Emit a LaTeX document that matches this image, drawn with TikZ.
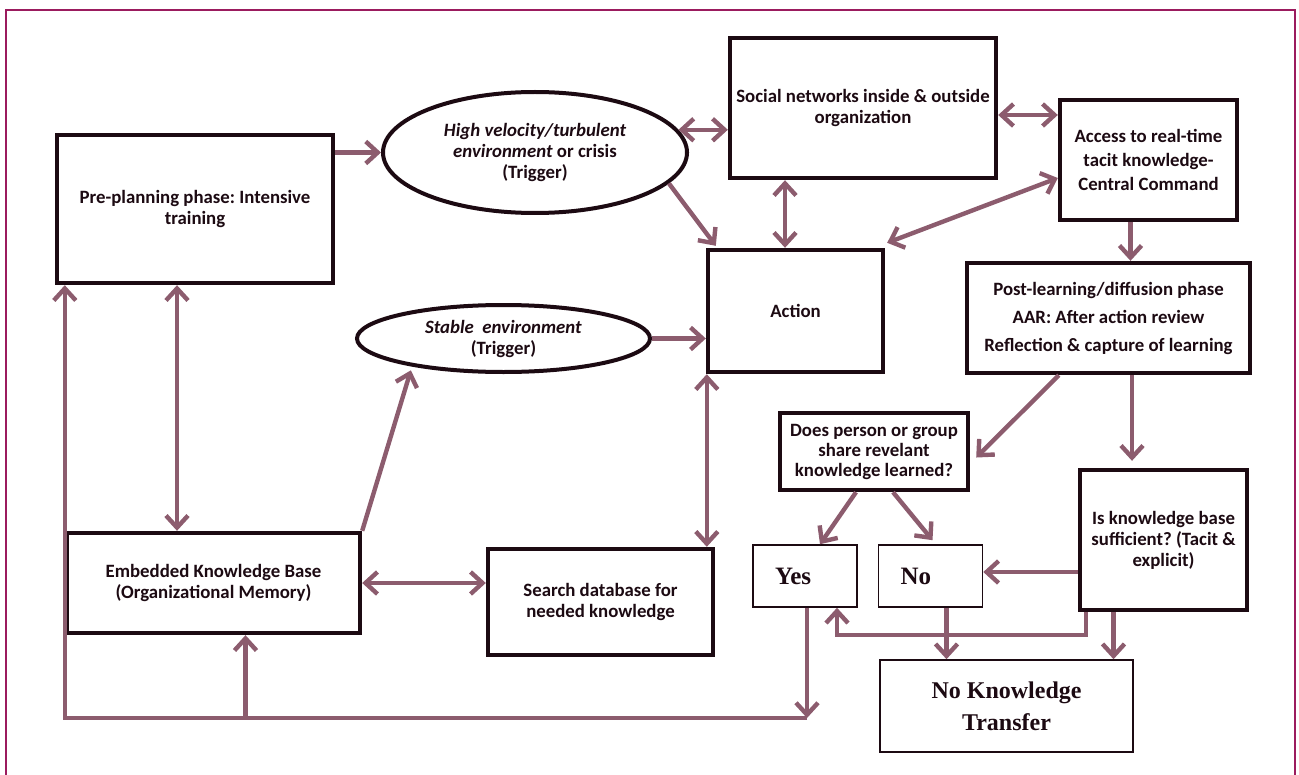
\documentclass[tikz,border=0pt]{standalone}
\usepackage{fontspec}
\setmainfont{Carlito}
\newfontfamily\serifbold{Liberation Serif}
\usepackage{tikz}
\usetikzlibrary{arrows.meta,calc,shapes.geometric}
\definecolor{mauve}{HTML}{8C5C6E}
\definecolor{plum}{HTML}{9B1B5E}
\definecolor{ink}{HTML}{1C0A12}
\frenchspacing
\newcommand\boxfont[1][10.5]{\bfseries\fontsize{9.4}{#1}\selectfont}
\tikzset{
    every picture/.style={line join=miter},
    phasebox/.style={draw=ink,fill=white,line width=2.2pt,inner sep=2pt,
      text=ink,font=\boxfont,align=center},
    trigger/.style={ellipse,draw=ink,fill=white,line width=2pt,inner sep=0pt,
      text=ink,font=\boxfont,align=center},
    answerbox/.style={draw=ink,fill=white,line width=0.8pt,text=ink,
      font={\serifbold\bfseries\fontsize{12.5}{16}\selectfont}},
    flowarrow/.style={draw=mauve,line width=2.2pt,
      -{Straight Barb[length=6pt,width=11pt]}},
    twoway/.style={flowarrow,
      {Straight Barb[length=6pt,width=11pt]}-{Straight Barb[length=6pt,width=11pt]}}
}

\begin{document}
\begin{tikzpicture}[x=0.5pt,y=-0.5pt]
  \useasboundingbox (0,0) rectangle (1299,775);
  \draw[plum,line width=1.2pt] (6,780) -- (6,10) -- (1295,10) -- (1295,780);

  \node[phasebox,minimum width=138pt,minimum height=74pt] (pre) at (195,209)
    {Pre-planning phase: Intensive\\training};
  \node[trigger,minimum width=152pt,minimum height=60.5pt] (hv) at (535,152.5)
    {\itshape High velocity/turbulent\\\textit{environment} or crisis\\(Trigger)};
  \node[phasebox,minimum width=133pt,minimum height=70pt] (social) at (863,108)
    {Social networks inside \& outside\\organization};
  \node[phasebox,minimum width=88.5pt,minimum height=60pt,font={\boxfont[12]}] (access) at (1148.5,160)
    {Access to real-time\\tacit knowledge-\\Central Command};
  \node[phasebox,minimum width=87.5pt,minimum height=61pt] (action) at (795.5,311) {Action};
  \node[trigger,minimum width=146.5pt,minimum height=33.5pt] (stable) at (503.5,338.5)
    {\textit{Stable~ environment}\\(Trigger)};
  \node[phasebox,minimum width=141.5pt,minimum height=55pt,font={\boxfont[14]}] (post) at (1108.5,318)
    {Post-learning/diffusion phase\\AAR: After action review\\Reflection \& capture of learning};
  \node[phasebox,minimum width=94pt,minimum height=38.5pt,font={\boxfont[10]}] (does) at (874,451.5)
    {Does person or group\\share revelant\\knowledge learned?};
  \node[phasebox,minimum width=83.5pt,minimum height=70pt] (is) at (1163.5,540)
    {Is knowledge base\\sufficient? (Tacit \&\\explicit)};
  \node[phasebox,minimum width=146.5pt,minimum height=50pt] (emb) at (213.5,583)
    {Embedded Knowledge Base\\(Organizational Memory)};
  \node[phasebox,minimum width=112.5pt,minimum height=53pt] (search) at (600.5,602)
    {Search database for\\needed knowledge};
  \foreach \nm/\t/\x in {yes/Yes/805,no/No/930.5}
    {\node[answerbox,minimum height=31pt,text width=30pt,inner xsep=11pt,align=left] (\nm) at (\x,576) {\t};}
  \node[answerbox,minimum width=126.5pt,minimum height=46pt,align=center,
    font={\serifbold\bfseries\fontsize{12}{16}\selectfont}] (nokt) at (1006.5,706)
    {No Knowledge\\Transfer};
  \coordinate (loopend) at (807,718);

  \draw[flowarrow] (pre.east |- hv.west) -- (hv.west);
  \draw[twoway] (hv.9) -- (hv.9 -| social.west);
  \draw[twoway] ([yshift=-3.5pt]social.east) -- ([yshift=-3.5pt]social.east -| access.west);
  \draw[flowarrow] (hv.-13) -- ([xshift=5pt,yshift=1pt]action.north west);
  \draw[twoway] ([xshift=-5.25pt]action.north) -- ([xshift=-5.25pt]action.north |- social.south);
  \draw[twoway] ([shift={(1pt,2.5pt)}]action.north east) -- ([yshift=-9pt]access.west);
  \draw[flowarrow] ([xshift=-9pt]access.south) -- ([xshift=-9pt]access.south |- post.north);
  \draw[flowarrow] (stable.east) -- (stable.east -| action.west);
  \draw[flowarrow,shorten >=2pt] (emb.north east) -- (stable.-163);
  \draw[twoway] ([xshift=-9pt]pre.south) -- ([xshift=-9pt]pre.south |- emb.north);
  \draw[twoway] (emb.east) -- (emb.east -| search.west);
  \draw[twoway] ([xshift=0.5pt]action.south west) -- ([xshift=0.5pt]action.south west |- search.north);
  \draw[flowarrow] ([xshift=47pt]post.south west) -- ([xshift=3pt,yshift=-3pt]does.east);
  \draw[flowarrow,shorten >=3.5pt] ([xshift=11.75pt]post.south) -- ([xshift=11.75pt]post.south |- is.north);
  \draw[flowarrow] ([xshift=-9pt]does.south) -- ([xshift=7.5pt]yes.north);
  \draw[flowarrow] ([xshift=9.5pt]does.south) -- ([xshift=1pt,yshift=2pt]no.north);
  \draw[flowarrow] ([yshift=2pt]is.west |- no.east) -- ([yshift=2pt]no.east);
  \draw[flowarrow] ([xshift=4pt]is.south west) |- ([xshift=16pt,yshift=-13.5pt]yes.south) -- ([xshift=16pt]yes.south);
  \draw[flowarrow] ([xshift=8pt]no.south) -- ([xshift=8pt]no.south |- nokt.north);
  \draw[flowarrow] ([xshift=-25pt]is.south) -- ([xshift=-25pt]is.south |- nokt.north);
  \draw[flowarrow] (yes.south -| loopend) -- (loopend);
  \draw[flowarrow] (loopend) -| (emb.west |- pre.south);
  \draw[flowarrow] ([xshift=16pt]emb.south |- loopend) -- ([xshift=16pt]emb.south);
\end{tikzpicture}
\end{document}
